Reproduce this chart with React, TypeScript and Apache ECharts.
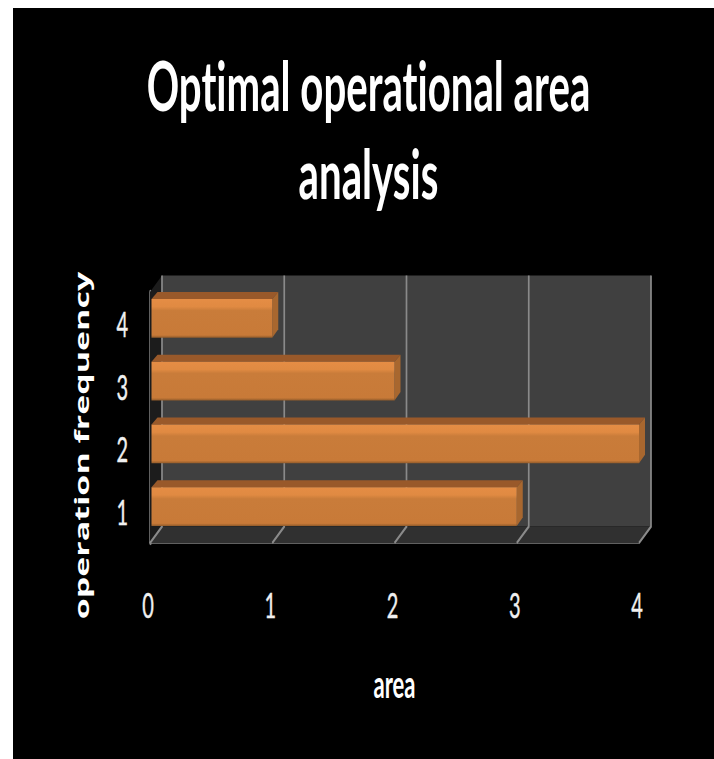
import React, { useEffect, useRef } from "react";
import * as echarts from "echarts";

const titleLines = ["Optimal operational area", "analysis"];
const frequencyLabels = ["1", "2", "3", "4"];
const areaValues = [3, 4, 2, 1];
const areaTicks = [0, 1, 2, 3, 4];

// The chart is laid out flat and stretched vertically as a whole, which gives
// the tall lettering. STRETCH converts page pixels to the chart's own pixels.
const STRETCH = 1.7;
const PANEL = { left: 13, top: 8, width: 701, height: 751 };
const px = (x: number) => x - PANEL.left;
const py = (y: number) => (y - PANEL.top) / STRETCH;

const WALL_DX = 12;
const WALL_DY = 16.5 / STRETCH;
const BAR_DX = 6;
const BAR_DY = 7 / STRETCH;
const BAR_LIFT = 5 / STRETCH;
const BAR_BAND_RATIO = 0.62;

// Back wall, floor, side wall and the gridlines folded along them.
function renderFrame(params: any, api: any) {
  const tick = api.value(0);
  const cs = params.coordSys;
  const x = api.coord([tick, 0])[0];
  const yTop = cs.y;
  const yBottom = cs.y + cs.height;
  const xLeft = cs.x;
  const xRight = cs.x + cs.width;
  const children: any[] = [];
  if (params.dataIndex === 0) {
    children.push(
      {
        type: "rect",
        shape: {
          x: xLeft + WALL_DX,
          y: yTop - WALL_DY,
          width: cs.width,
          height: cs.height,
        },
        style: { fill: "#404040" },
      },
      {
        type: "polygon",
        shape: {
          points: [
            [xLeft, yBottom],
            [xLeft + WALL_DX, yBottom - WALL_DY],
            [xRight + WALL_DX, yBottom - WALL_DY],
            [xRight, yBottom],
          ],
        },
        style: { fill: "#303030" },
      },
      {
        type: "polygon",
        shape: {
          points: [
            [xLeft, yTop],
            [xLeft + WALL_DX, yTop - WALL_DY],
            [xLeft + WALL_DX, yBottom - WALL_DY],
            [xLeft, yBottom],
          ],
        },
        style: { fill: "#1c1c1c" },
      }
    );
  }
  children.push({
    type: "polyline",
    shape: {
      points: [
        [x, yBottom],
        [x + WALL_DX, yBottom - WALL_DY],
        [x + WALL_DX, yTop - WALL_DY],
      ],
    },
    style: { stroke: "#8a8a8a", lineWidth: 1.7, fill: "none" },
  });
  return { type: "group", children };
}

// A bar with a lit front face, a top face and an end face.
function renderBar(_params: any, api: any) {
  const [x1, yc] = api.coord([api.value(0), api.value(1)]);
  const [x0] = api.coord([0, api.value(1)]);
  const h = api.size([0, 1])[1] * BAR_BAND_RATIO;
  const left = x0 + 1.5;
  const top = yc - BAR_LIFT - h / 2;
  const bottom = top + h;
  return {
    type: "group",
    children: [
      {
        type: "polygon",
        shape: {
          points: [
            [left, top],
            [left + BAR_DX, top - BAR_DY],
            [x1 + BAR_DX, top - BAR_DY],
            [x1, top],
          ],
        },
        style: { fill: "#99592a" },
      },
      {
        type: "polygon",
        shape: {
          points: [
            [x1, top],
            [x1 + BAR_DX, top - BAR_DY],
            [x1 + BAR_DX, bottom - BAR_DY - 1],
            [x1, bottom],
          ],
        },
        style: { fill: "#a8672f" },
      },
      {
        type: "rect",
        shape: { x: left, y: top, width: x1 - left, height: h },
        style: {
          fill: new echarts.graphic.LinearGradient(0, 0, 0, 1, [
            { offset: 0, color: "#e58d45" },
            { offset: 0.2, color: "#e08a42" },
            { offset: 0.3, color: "#c97c3a" },
            { offset: 0.93, color: "#c87a38" },
            { offset: 1, color: "#8f5a2a" },
          ]),
        },
      },
    ],
  };
}

export default function App() {
  const ref = useRef<HTMLDivElement>(null);

  useEffect(() => {
    const chart = echarts.init(ref.current!, undefined, { renderer: "svg" });
    chart.setOption({
      animation: false,
      backgroundColor: "#000000",
      title: {
        text: titleLines.join("\n"),
        left: px(363.5),
        top: py(32),
        textAlign: "center",
        textStyle: {
          fontFamily: "Lato",
          fontWeight: "bold",
          fontSize: 40.2,
          lineHeight: 88 / STRETCH,
          color: "#ffffff",
        },
      },
      grid: {
        left: px(150),
        top: py(292),
        width: 489,
        height: 251 / STRETCH,
      },
      xAxis: {
        type: "value",
        min: 0,
        max: 4,
        interval: 1,
        name: "area",
        nameLocation: "middle",
        nameGap: 72,
        nameTextStyle: {
          fontFamily: "Lato",
          fontWeight: "bold",
          fontSize: 22,
          color: "#ffffff",
        },
        axisLine: { show: true, lineStyle: { color: "#808080", width: 1.3 } },
        axisTick: { show: false },
        splitLine: { show: false },
        axisLabel: {
          margin: 26,
          padding: [0, 4, 0, 0],
          fontFamily: "Lato",
          fontSize: 20,
          color: "#f0f0f0",
          textBorderColor: "#f0f0f0",
          textBorderWidth: 0.25,
        },
      },
      yAxis: {
        type: "category",
        data: frequencyLabels,
        name: "operation frequency",
        nameLocation: "middle",
        nameGap: 59,
        nameRotate: 90,
        nameTextStyle: {
          fontFamily: "Open Sans",
          fontWeight: "bold",
          fontSize: 20,
          color: "#ffffff",
          padding: [0, 33, 0, 0],
        },
        axisLine: { show: true, lineStyle: { color: "#808080", width: 2.5 } },
        axisTick: { show: false },
        axisLabel: {
          margin: 22,
          fontFamily: "Lato",
          fontSize: 20,
          color: "#f0f0f0",
          textBorderColor: "#f0f0f0",
          textBorderWidth: 0.25,
        },
      },
      series: [
        {
          type: "custom",
          name: "frame",
          silent: true,
          clip: false,
          z: 1,
          renderItem: renderFrame,
          encode: { x: 0 },
          data: areaTicks.map((t) => [t]),
        },
        {
          type: "custom",
          name: "area",
          silent: true,
          clip: false,
          z: 2,
          renderItem: renderBar,
          encode: { x: 0, y: 1 },
          data: areaValues.map((v, i) => [v, i]),
        },
      ],
    });
    return () => chart.dispose();
  }, []);

  return (
    <div
      ref={ref}
      style={{
        position: "absolute",
        left: PANEL.left,
        top: PANEL.top,
        width: PANEL.width,
        height: PANEL.height / STRETCH,
        transform: `scaleY(${STRETCH})`,
        transformOrigin: "0 0",
        fontVariantLigatures: "none",
      }}
    />
  );
}
